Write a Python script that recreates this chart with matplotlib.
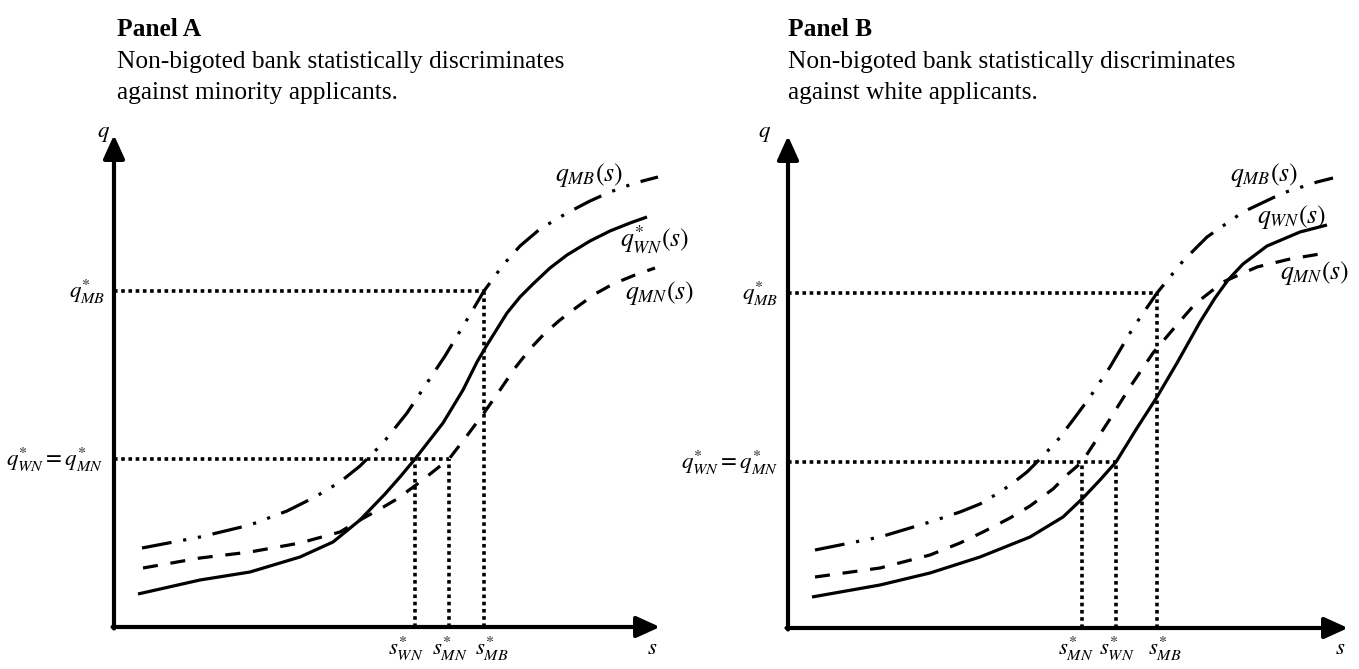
import matplotlib
matplotlib.use("Agg")
import matplotlib.pyplot as plt

plt.rcParams['font.family'] = ['Liberation Serif', 'DejaVu Serif']
plt.rcParams['mathtext.fontset'] = 'stix'

# ---------------- data (arbitrary score / probability units) ----------------
# Panel A
sA_WN = [24, 86, 136, 186, 219, 246, 271, 286, 301, 329, 349, 363, 373, 393, 406, 419, 436, 453, 476, 496, 516, 533]
qA_WN = [33, 47, 55, 70, 85, 107, 133, 150, 168, 204, 237, 265, 282, 314, 330, 343, 359, 372, 386, 396, 404, 410]
sA_MN = [29, 86, 136, 186, 226, 246, 266, 283, 306, 335, 352, 370, 386, 401, 416, 431, 446, 463, 481, 499, 521, 541]
qA_MN = [59, 69, 75, 84, 95, 107, 118, 128, 145, 168, 190, 214, 237, 259, 278, 294, 307, 320, 333, 343, 352, 359]
sA_MB = [28, 86, 136, 173, 201, 226, 246, 269, 293, 311, 331, 351, 370, 389, 406, 426, 453, 476, 496, 521, 544]
qA_MB = [79, 90, 102, 116, 130, 145, 161, 184, 214, 241, 271, 304, 336, 362, 381, 398, 414, 426, 435, 444, 450]
A_q_star_MB = 336
A_q_star = 168
A_s_star = {'WN': 301, 'MN': 335, 'MB': 370}

# Panel B
sB_WN = [24, 92, 142, 192, 242, 275, 295, 312, 328, 349, 369, 389, 412, 427, 440, 455, 479, 512, 539]
qB_WN = [31, 43, 55, 71, 91, 111, 130, 148, 166, 200, 231, 265, 306, 330, 348, 364, 382, 396, 403]
sB_MN = [27, 92, 142, 172, 195, 222, 242, 265, 280, 294, 307, 322, 342, 365, 387, 407, 435, 469, 502, 532]
qB_MN = [51, 60, 73, 85, 96, 110, 122, 139, 154, 166, 186, 209, 241, 275, 301, 324, 346, 361, 369, 374]
sB_MB = [27, 92, 142, 172, 192, 212, 225, 239, 252, 269, 285, 302, 322, 345, 369, 395, 419, 455, 495, 529, 545]
qB_MB = [78, 91, 106, 116, 124, 136, 145, 156, 169, 187, 208, 231, 261, 300, 335, 367, 391, 416, 435, 446, 450]
B_q_star_MB = 335
B_q_star = 166
B_s_star = {'MN': 294, 'WN': 328, 'MB': 369}

titles = [("Panel A", "Non-bigoted bank statistically discriminates", "against minority applicants."),
          ("Panel B", "Non-bigoted bank statistically discriminates", "against white applicants.")]

# ---------------- figure ----------------
W, H = 1359, 669
fig = plt.figure(figsize=(W / 100, H / 100), dpi=100)

XMAX_A, YMAX_A = 546, 492
XMAX_B, YMAX_B = 560, 492


def make_ax(ox, oy, xmax, ymax):
    ax = fig.add_axes([ox / W, (H - oy) / H, xmax / W, ymax / H])
    ax.set_xlim(0, xmax)
    ax.set_ylim(0, ymax)
    ax.axis('off')
    return ax


LW = 2.3
solid = dict(color='k', lw=LW, solid_capstyle='butt', solid_joinstyle='round')
dashed = dict(color='k', lw=LW, linestyle=(0, (4.7, 4.0)))
dashdotdot = dict(color='k', lw=LW, linestyle=(0, (9.4, 3.7, 1.0, 3.7, 1.0, 3.7)))
dotted = dict(color='k', lw=2.6, linestyle=(0, (1.0, 1.0)))


def axes_arrows(ax, xmax, ymax):
    ap = dict(arrowstyle='-|>,head_length=0.55,head_width=0.25', mutation_scale=26,
              lw=3.0, color='k', shrinkA=0, shrinkB=0)
    ax.annotate('', xy=(xmax, 0), xytext=(-1.5, 0), arrowprops=ap, annotation_clip=False)
    ax.annotate('', xy=(0, ymax), xytext=(0, -1.5), arrowprops=ap, annotation_clip=False)


# Panel A
axA = make_ax(114, 627, XMAX_A, YMAX_A)
axes_arrows(axA, XMAX_A, YMAX_A)
axA.plot([0, A_s_star['MB']], [A_q_star_MB, A_q_star_MB], **dotted)
axA.plot([0, A_s_star['MN']], [A_q_star, A_q_star], **dotted)
axA.plot([A_s_star['WN']] * 2, [0, A_q_star], **dotted)
axA.plot([A_s_star['MN']] * 2, [0, A_q_star], **dotted)
axA.plot([A_s_star['MB']] * 2, [0, A_q_star_MB], **dotted)
axA.plot(sA_WN, qA_WN, **solid)
axA.plot(sA_MN, qA_MN, **dashed)
axA.plot(sA_MB, qA_MB, **dashdotdot)

FS_CURVE = 18.5
FS_TICK = 16.5
axA.text(441, 452, r'$q_{MB}(s)$', fontsize=FS_CURVE, ha='left', va='center')
axA.text(506, 387, r'$q^{*}_{WN}(s)$', fontsize=FS_CURVE, ha='left', va='center')
axA.text(511, 334, r'$q_{MN}(s)$', fontsize=FS_CURVE, ha='left', va='center')
axA.text(-9, A_q_star_MB, r'$q^{*}_{MB}$', fontsize=FS_TICK, ha='right', va='center')
axA.text(-11, A_q_star, r'$q^{*}_{WN}=q^{*}_{MN}$', fontsize=FS_TICK, ha='right', va='center')
axA.text(292, -21, r'$s^{*}_{WN}$', fontsize=FS_TICK, ha='center', va='center')
axA.text(336, -21, r'$s^{*}_{MN}$', fontsize=FS_TICK, ha='center', va='center')
axA.text(378, -21, r'$s^{*}_{MB}$', fontsize=FS_TICK, ha='center', va='center')
axA.text(538, -21, r'$s$', fontsize=FS_TICK, ha='center', va='center')
axA.text(-10, YMAX_A + 2, r'$q$', fontsize=FS_TICK, ha='center', va='center')

# Panel B
axB = make_ax(788, 628, XMAX_B, YMAX_B)
axes_arrows(axB, XMAX_B, YMAX_B)
axB.plot([0, B_s_star['MB']], [B_q_star_MB, B_q_star_MB], **dotted)
axB.plot([0, B_s_star['WN']], [B_q_star, B_q_star], **dotted)
axB.plot([B_s_star['MN']] * 2, [0, B_q_star], **dotted)
axB.plot([B_s_star['WN']] * 2, [0, B_q_star], **dotted)
axB.plot([B_s_star['MB']] * 2, [0, B_q_star_MB], **dotted)
axB.plot(sB_WN, qB_WN, **solid)
axB.plot(sB_MN, qB_MN, **dashed)
axB.plot(sB_MB, qB_MB, **dashdotdot)

axB.text(442, 453, r'$q_{MB}(s)$', fontsize=FS_CURVE, ha='left', va='center')
axB.text(469, 411, r'$q_{WN}(s)$', fontsize=FS_CURVE, ha='left', va='center')
axB.text(492, 355, r'$q_{MN}(s)$', fontsize=FS_CURVE, ha='left', va='center')
axB.text(-10, B_q_star_MB, r'$q^{*}_{MB}$', fontsize=FS_TICK, ha='right', va='center')
axB.text(-10, B_q_star, r'$q^{*}_{WN}=q^{*}_{MN}$', fontsize=FS_TICK, ha='right', va='center')
axB.text(288, -20, r'$s^{*}_{MN}$', fontsize=FS_TICK, ha='center', va='center')
axB.text(329, -20, r'$s^{*}_{WN}$', fontsize=FS_TICK, ha='center', va='center')
axB.text(377, -20, r'$s^{*}_{MB}$', fontsize=FS_TICK, ha='center', va='center')
axB.text(XMAX_B - 8, -20, r'$s$', fontsize=FS_TICK, ha='center', va='center')
axB.text(-23, YMAX_B + 2, r'$q$', fontsize=FS_TICK, ha='center', va='center')

# Titles
FS_TITLE = 18.3
for (head, line1, line2), x0 in zip(titles, [117, 788]):
    fig.text(x0 / W, 1 - 30 / H, head, fontsize=FS_TITLE, fontweight='bold', ha='left', va='center')
    fig.text(x0 / W, 1 - 62 / H, line1, fontsize=FS_TITLE, ha='left', va='center')
    fig.text(x0 / W, 1 - 93 / H, line2, fontsize=FS_TITLE, ha='left', va='center')

fig.savefig('out.png', dpi=100, facecolor='white')
